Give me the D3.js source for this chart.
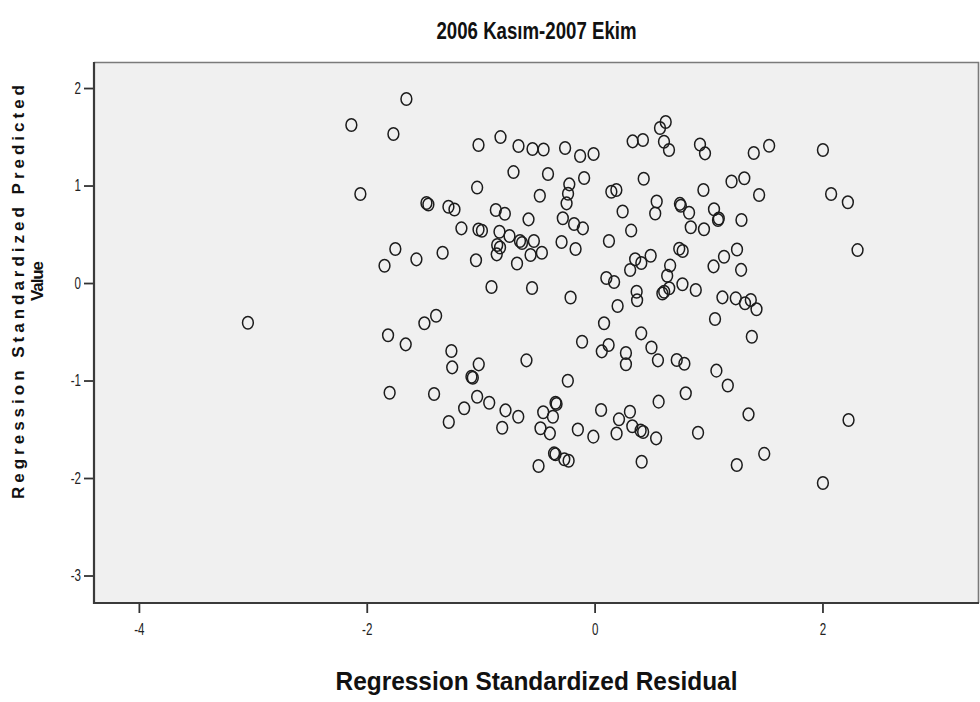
<!DOCTYPE html>
<html>
<head>
<meta charset="utf-8">
<script src="https://cdn.jsdelivr.net/npm/d3@7"></script>
<style>
  html, body { margin: 0; padding: 0; background: #fff; }
  svg { display: block; }
</style>
</head>
<body>
<svg id="chart" width="980" height="702"></svg>
<script>
// Residual vs. predicted values (standardized), one entry per case
const residuals = [
  -1.652, -2.135, -1.766, -1.019, -0.826, -0.668, -0.545, -0.448, -0.259, -0.127,
  -0.009, -0.712, -0.409, -0.092, -0.222, -0.233, -0.246, -0.481, -1.031, -2.056,
  -1.476, -1.459, -1.283, -1.230, -0.867, -0.788, -0.580, -0.279, -0.180, -0.103,
  -1.169, -1.019, -0.989, -0.835, -0.747, -0.655, -0.637, -0.533, -0.290, -0.167,
  -0.855, -0.830, -0.859, -0.562, -0.463, -0.681, -1.041, -1.334, -1.564, -1.749,
  -1.844,  0.126,  0.147,  0.191,  0.246,  0.321,  0.431,  0.334,  0.424,  0.624,
   0.574,  0.609,  0.653,  0.925,  0.969,  1.397,  1.532,  2.004,  0.955,  1.202,
   1.314,  1.444,  2.076,  2.223,  0.545,  0.532,  0.749,  0.757,  0.829,  0.844,
   0.960,  1.048,  1.083,  1.090,  1.289,  2.308,  0.492,  0.356,  0.410,  0.312,
   0.743,  0.773,  1.044,  1.136,  1.250,  1.286,  0.663,  0.637,  0.103,  0.171,
  -0.905, -0.549, -0.211,  0.369,  0.373,  0.595,  0.611,  0.655,  0.771,  0.888,
   1.122,  1.239,  1.320,  1.371,  1.421,  1.057,  1.380,  0.202,  0.083,  0.409,
   0.123,  0.063,  0.499,  0.275,  0.275,  0.556,  0.721,  0.788,  1.069,  1.169,
   0.800,  0.562,  0.057,  0.310,  0.214,  0.331,  0.404,  0.426,  0.193,  0.540,
   0.908,  1.351,  2.229,  1.489,  1.248,  0.413,  2.004, -0.110, -1.391, -1.494,
  -1.813, -1.658, -1.257, -1.250, -1.017, -1.081, -1.069, -0.598, -0.235, -1.799,
  -1.409, -1.031, -0.925, -1.145, -1.280, -0.782, -0.670, -0.811, -0.451, -0.343,
  -0.334, -0.366, -0.475, -0.393, -0.147, -0.011, -0.356, -0.343, -0.266, -0.228,
  -0.492, -3.043
];
const predicted = [
   1.887,  1.621,  1.528,  1.415,  1.497,  1.405,  1.374,  1.369,  1.385,  1.303,
   1.323,  1.138,  1.118,  1.077,  1.012,  0.916,  0.817,  0.895,  0.979,  0.913,
   0.821,  0.805,  0.783,  0.754,  0.749,  0.710,  0.653,  0.664,  0.605,  0.561,
   0.561,  0.549,  0.536,  0.526,  0.482,  0.431,  0.410,  0.431,  0.421,  0.349,
   0.390,  0.364,  0.294,  0.287,  0.311,  0.200,  0.234,  0.311,  0.243,  0.349,
   0.177,  0.431,  0.936,  0.954,  0.733,  0.538,  1.070,  1.453,  1.467,  1.651,
   1.590,  1.449,  1.364,  1.421,  1.330,  1.333,  1.408,  1.364,  0.954,  1.041,
   1.074,  0.903,  0.913,  0.829,  0.836,  0.713,  0.812,  0.793,  0.721,  0.572,
   0.552,  0.756,  0.646,  0.662,  0.646,  0.338,  0.280,  0.244,  0.205,  0.133,
   0.352,  0.328,  0.171,  0.270,  0.344,  0.135,  0.179,  0.075,  0.051,  0.010,
  -0.041, -0.051, -0.149, -0.089, -0.177, -0.108, -0.089, -0.054, -0.012, -0.072,
  -0.147, -0.157, -0.208, -0.174, -0.269, -0.369, -0.551, -0.236, -0.413, -0.516,
  -0.636, -0.701, -0.662, -0.718, -0.833, -0.793, -0.790, -0.828, -0.899, -1.051,
  -1.131, -1.217, -1.303, -1.320, -1.398, -1.469, -1.513, -1.528, -1.544, -1.593,
  -1.536, -1.347, -1.405, -1.752, -1.867, -1.833, -2.051, -0.602, -0.335, -0.413,
  -0.536, -0.629, -0.697, -0.865, -0.834, -0.961, -0.972, -0.793, -1.002, -1.125,
  -1.138, -1.166, -1.228, -1.285, -1.426, -1.306, -1.371, -1.484, -1.326, -1.228,
  -1.241, -1.371, -1.490, -1.542, -1.503, -1.576, -1.747, -1.757, -1.807, -1.823,
  -1.877, -0.407
];
const xTicks = [-4, -2, 0, 2];
const xTickLabels = ["-4", "-2", "0", "2"];
const yTicks = [2, 1, 0, -1, -2, -3];
const yTickLabels = ["2", "1", "0", "-1", "-2", "-3"];

const chartTitle = "2006 Kasım-2007 Ekim";
const xTitle = "Regression Standardized Residual";
const yTitleLines = ["Regression Standardized Predicted", "Value"];

const FONT = "'Liberation Sans', Arial, sans-serif";
const svg = d3.select("#chart");
const plot = { left: 94, top: 62, right: 979, bottom: 603 };

const x = d3.scaleLinear().domain([-4.394, 3.374]).range([plot.left, plot.right]);
const y = d3.scaleLinear().domain([-3.282, 2.267]).range([plot.bottom, plot.top]);

// squeeze a text element horizontally to a share of its natural width
function condense(sel, factor) {
  sel.each(function () {
    const w = this.getComputedTextLength();
    d3.select(this).attr("textLength", w * factor).attr("lengthAdjust", "spacingAndGlyphs");
  });
}

// plot background
svg.append("rect")
  .attr("x", plot.left).attr("y", plot.top)
  .attr("width", plot.right - plot.left).attr("height", plot.bottom - plot.top)
  .attr("fill", "#f0f0f0");

// top and right frame lines
svg.append("path")
  .attr("d", `M${plot.left},${plot.top + 0.5}H${plot.right - 0.5}V${plot.bottom}`)
  .attr("fill", "none").attr("stroke", "#7a7a7a").attr("stroke-width", 1.6);

// axes
const xAxis = d3.axisBottom(x).tickValues(xTicks).tickSize(10).tickPadding(8)
  .tickFormat((d, i) => xTickLabels[i]);
const yAxis = d3.axisLeft(y).tickValues(yTicks).tickSize(10).tickPadding(3)
  .tickFormat((d, i) => yTickLabels[i]);

const gx = svg.append("g").attr("transform", `translate(0,${plot.bottom})`).call(xAxis);
const gy = svg.append("g").attr("transform", `translate(${plot.left},0)`).call(yAxis);

[gx, gy].forEach(g => {
  g.select(".domain").remove();
  g.selectAll(".tick line").attr("stroke", "#333").attr("stroke-width", 1.8);
  g.selectAll(".tick text")
    .attr("fill", "#222")
    .style("font-family", FONT)
    .style("font-size", "17px")
    .call(condense, 0.68);
});
gx.selectAll(".tick text").attr("dy", "0.85em");

// left and bottom axis lines
svg.append("path")
  .attr("d", `M${plot.left},${plot.top}V${plot.bottom}H${plot.right}`)
  .attr("fill", "none").attr("stroke", "#3a3a3a").attr("stroke-width", 2.2);

// markers
svg.append("g")
  .selectAll("ellipse")
  .data(residuals.map((r, i) => [r, predicted[i]]))
  .join("ellipse")
  .attr("cx", d => x(d[0]))
  .attr("cy", d => y(d[1]))
  .attr("rx", 5.4)
  .attr("ry", 6.3)
  .attr("fill", "none")
  .attr("stroke", "#1c1c1c")
  .attr("stroke-width", 1.5);

// titles
const cx = (plot.left + plot.right) / 2;
svg.append("text")
  .attr("x", cx).attr("y", 39)
  .attr("text-anchor", "middle")
  .attr("textLength", 200).attr("lengthAdjust", "spacingAndGlyphs")
  .style("font-family", FONT)
  .style("font-size", "24px").style("font-weight", "bold")
  .attr("fill", "#111")
  .text(chartTitle);

svg.append("text")
  .attr("x", cx).attr("y", 690)
  .attr("text-anchor", "middle")
  .attr("textLength", 402).attr("lengthAdjust", "spacingAndGlyphs")
  .style("font-family", FONT)
  .style("font-size", "25px").style("font-weight", "bold")
  .attr("fill", "#111")
  .text(xTitle);

const yLabelPos = [{ tx: 24, cy: 292, len: 414 }, { tx: 43, cy: 281, len: 40 }];
yTitleLines.forEach((line, i) => {
  const p = yLabelPos[i];
  svg.append("text")
    .attr("transform", `translate(${p.tx},${p.cy}) rotate(-90)`)
    .attr("text-anchor", "middle")
    .attr("textLength", p.len)
    .attr("lengthAdjust", "spacing")
    .style("font-family", FONT)
    .style("font-size", "17px").style("font-weight", "bold")
    .attr("fill", "#111")
    .text(line);
});
</script>
</body>
</html>
